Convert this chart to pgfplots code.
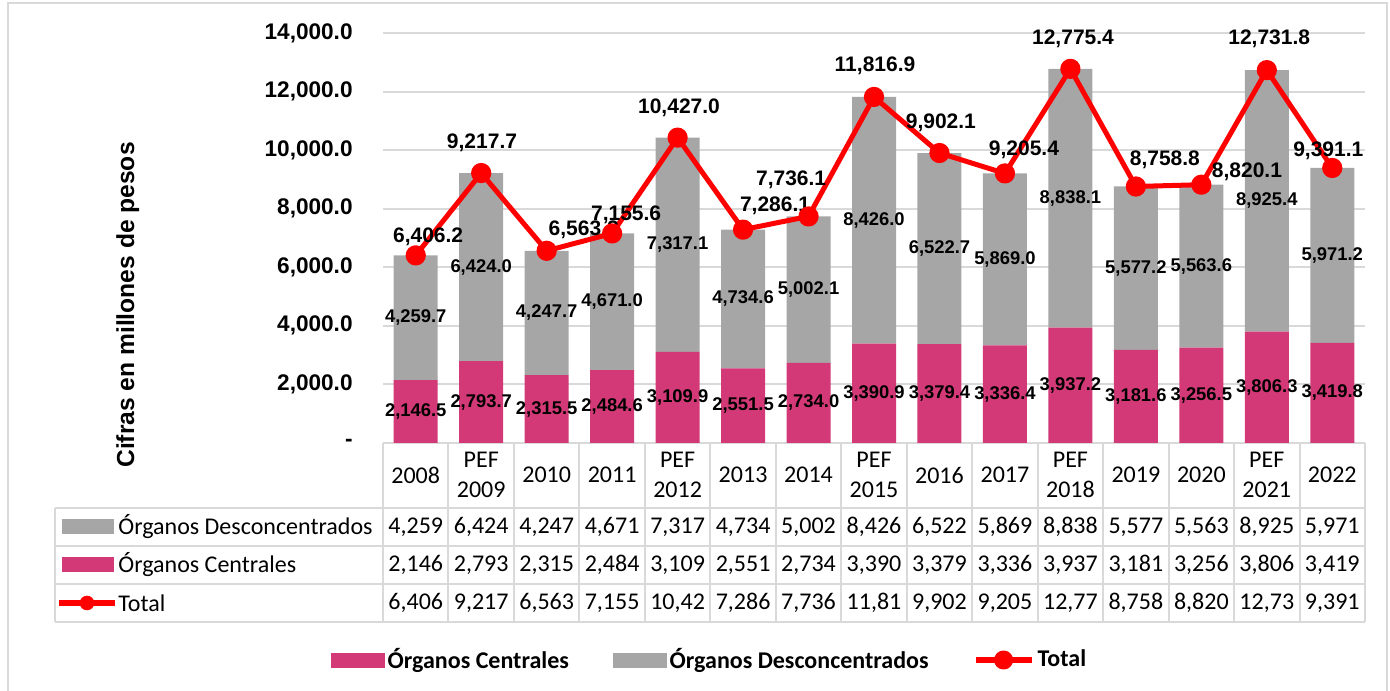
\documentclass[border=0pt]{standalone}
\usepackage{pgfplots}
\pgfplotsset{compat=1.18}
\usepackage{pgfplotstable}
\usepackage{fontspec}
\setmainfont{Liberation Sans}
\newfontfamily\calibri{Carlito}
\definecolor{pinkc}{RGB}{210,57,118}
\definecolor{grayc}{RGB}{166,166,166}
\definecolor{gridc}{RGB}{217,217,217}
\definecolor{redc}{RGB}{255,0,0}

\pgfplotstableread{
x  c       d       t        dx    dy    tc     td     tt
0  2146.5  4259.7  6406.2   6.2   9.2   2,146  4,259  6,406
1  2793.7  6424.0  9217.7   0.4   15.2  2,793  6,424  9,217
2  2315.5  4247.7  6563.2   18.5  10.6  2,315  4,247  6,563
3  2484.6  4671.0  7155.6   7.0   9.5   2,484  4,671  7,155
4  3109.9  7317.1  10427.0  0.7   15.0  3,109  7,317  10,42
5  2551.5  4734.6  7286.1   16.0  11.7  2,551  4,734  7,286
6  2734.0  5002.1  7736.1   -8.7  18.5  2,734  5,002  7,736
7  3390.9  8426.0  11816.9  0.5   15.5  3,390  8,426  11,81
8  3379.4  6522.7  9902.1   0.7   15.2  3,379  6,522  9,902
9  3336.4  5869.0  9205.4   9.5   12.0  3,336  5,869  9,205
10 3937.2  8838.1  12775.4  1.3   15.2  3,937  8,838  12,77
11 3181.6  5577.2  8758.8   14.5  13.5  3,181  5,577  8,758
12 3256.5  5563.6  8820.1   22.8  6.5   3,256  5,563  8,820
13 3806.3  8925.4  12731.8  1.2   15.5  3,806  8,925  12,73
14 3419.8  5971.2  9391.1   -2.0  8.5   3,419  5,971  9,391
}\data

\begin{document}
\begin{tikzpicture}
\useasboundingbox (0pt,0pt) rectangle (695pt,345pt);
% outer frame
\draw[gridc, line width=0.8pt] (4pt,-2pt) -- (4pt,343.5pt) -- (693.5pt,343.5pt) -- (693.5pt,-2pt);

% ---------- bars ----------
\begin{axis}[
  at={(191.5pt,123.5pt)}, anchor=south west,
  scale only axis, width=491pt, height=205pt,
  xmin=-0.5, xmax=14.5, ymin=0, ymax=14000, clip=false,
  ybar stacked, bar width=22pt,
  axis line style={draw=none},
  xtick=\empty,
  scaled y ticks=false,
  ytick={0,2000,4000,6000,8000,10000,12000,14000},
  yticklabels={{-\hspace{6.5pt}},{2,000.0},{4,000.0},{6,000.0},{8,000.0},{10,000.0},{12,000.0},{14,000.0}},
  ymajorgrids, grid style={draw=gridc, line width=1pt},
  major tick length=0pt,
  yticklabel style={font=\bfseries\fontsize{11.3}{13}\selectfont, anchor=east, inner sep=0pt, xshift=-15pt},
  ylabel={Cifras en millones de pesos},
  ylabel style={at={(axis description cs:-0.2600,0.3366)}, anchor=center, font=\bfseries\fontsize{12.3}{14}\selectfont},
]
\addplot[fill=pinkc, draw=none] table[x=x, y=c] \data;
\addplot[fill=grayc, draw=none] table[x=x, y=d] \data;
\end{axis}

% ---------- line, labels, table ----------
\begin{axis}[
  at={(191.5pt,123.5pt)}, anchor=south west,
  scale only axis, width=491pt, height=205pt,
  xmin=-0.5, xmax=14.5, ymin=0, ymax=14000, clip=false,
  axis line style={draw=none},
  ytick=\empty,
  xtick={0,...,14},
  xticklabels={2008,{PEF\\2009},2010,2011,{PEF\\2012},2013,2014,{PEF\\2015},2016,2017,{PEF\\2018},2019,2020,{PEF\\2021},2022},
  major tick length=0pt,
  xticklabel style={font=\calibri\fontsize{12}{15}\selectfont, align=center, anchor=center, yshift=-16pt},
  legend columns=3,
  legend style={at={(axis description cs:0.3330,-0.5293)}, anchor=center, draw=none, fill=none,
    font=\calibri\bfseries\fontsize{12}{14}\selectfont,
    nodes={inner sep=1.5pt},
    /tikz/every even column/.append style={column sep=20.5pt}},
  /pgf/number format/fixed,
  /pgf/number format/fixed zerofill,
  /pgf/number format/precision=1,
  /pgf/number format/1000 sep={,},
  /pgf/number format/assume math mode=true,
]
\addlegendimage{legend image code/.code={\fill[pinkc] (0pt,-3.5pt) rectangle (26.5pt,3.5pt);}}
\addlegendentry{Órganos Centrales}
\addlegendimage{legend image code/.code={\fill[grayc] (0pt,-3.5pt) rectangle (26.5pt,3.5pt);}}
\addlegendentry{Órganos Desconcentrados}

\addplot[redc, line width=2.5pt, line join=round, mark=*, mark size=3.8pt,
  mark options={fill=redc, draw=none},
  legend image code/.code={\draw[redc, line width=3pt] (0pt,0pt) -- (28pt,0pt); \fill[redc] (14pt,0pt) circle (3.5pt);},
  visualization depends on={\thisrow{dx} \as \dxv},
  visualization depends on={\thisrow{dy} \as \dyv},
  nodes near coords, point meta=explicit,
  every node near coord/.append style={anchor=center, xshift=\dxv pt, yshift=\dyv pt, text=black, font=\bfseries\fontsize{10.5}{12}\selectfont}
] table[x=x, y=t, meta=t] \data;
\addlegendentry{Total}

% segment labels
\addplot[draw=none, mark=none, forget plot, nodes near coords, point meta=explicit,
  every node near coord/.append style={anchor=center, text=black, font=\bfseries\fontsize{9.2}{11}\selectfont}
] table[x=x, y expr=\thisrow{c}/2, meta=c] \data;
\addplot[draw=none, mark=none, forget plot, nodes near coords, point meta=explicit,
  every node near coord/.append style={anchor=center, text=black, font=\bfseries\fontsize{9.2}{11}\selectfont}
] table[x=x, y expr=\thisrow{c}+\thisrow{d}/2, meta=d] \data;

% data table rows
\addplot[draw=none, mark=none, forget plot, nodes near coords={\pgfplotspointmeta}, point meta=explicit symbolic,
  every node near coord/.append style={anchor=center, yshift=-42pt, text=black, font=\calibri\fontsize{12}{14}\selectfont}
] table[x=x, y expr=0, meta=td] \data;
\addplot[draw=none, mark=none, forget plot, nodes near coords={\pgfplotspointmeta}, point meta=explicit symbolic,
  every node near coord/.append style={anchor=center, yshift=-61pt, text=black, font=\calibri\fontsize{12}{14}\selectfont}
] table[x=x, y expr=0, meta=tc] \data;
\addplot[draw=none, mark=none, forget plot, nodes near coords={\pgfplotspointmeta}, point meta=explicit symbolic,
  every node near coord/.append style={anchor=center, yshift=-80pt, text=black, font=\calibri\fontsize{12}{14}\selectfont}
] table[x=x, y expr=0, meta=tt] \data;
\end{axis}

% table grid
\begin{scope}[gridc, line width=1pt]
\foreach \k in {0,...,15} {
  \draw ({191.5pt+\k*32.7333pt},123.5pt) -- ({191.5pt+\k*32.7333pt},34pt);
}
\draw (27.5pt,91pt) -- (682.5pt,91pt);
\draw (27.5pt,72pt) -- (682.5pt,72pt);
\draw (27.5pt,53pt) -- (682.5pt,53pt);
\draw (27.5pt,34pt) -- (682.5pt,34pt);
\draw (27.5pt,91pt) -- (27.5pt,34pt);
\end{scope}
% row keys
\fill[grayc] (31pt,77.75pt) rectangle (57pt,85.25pt);
\node[anchor=west, inner sep=0pt, font=\calibri\fontsize{12}{14}\selectfont] at (59pt,81.5pt) {Órganos Desconcentrados};
\fill[pinkc] (31pt,58.75pt) rectangle (57pt,66.25pt);
\node[anchor=west, inner sep=0pt, font=\calibri\fontsize{12}{14}\selectfont] at (59pt,62.5pt) {Órganos Centrales};
\draw[redc, line width=3pt] (29.5pt,43.5pt) -- (57.5pt,43.5pt);
\fill[redc] (43.5pt,43.5pt) circle (3.65pt);
\node[anchor=west, inner sep=0pt, font=\calibri\fontsize{12}{14}\selectfont] at (59pt,43.5pt) {Total};
\end{tikzpicture}
\end{document}
